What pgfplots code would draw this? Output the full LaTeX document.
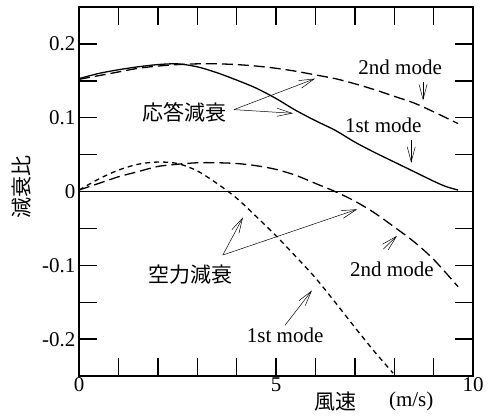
\documentclass[border=0pt]{standalone}
\usepackage{fontspec}
\setmainfont{Liberation Serif}
\newfontfamily\cjk{Noto Sans CJK JP}
\usepackage{pgfplots}
\pgfplotsset{compat=1.18}
\usetikzlibrary{arrows.meta}
\newcommand\bigf{\fontsize{21}{25}\selectfont}
\begin{document}
\begin{tikzpicture}
\begin{axis}[
  scale only axis, width=394pt, height=369pt,
  xmin=0, xmax=10, ymin=-0.25, ymax=0.25,
  xtick={0,1,2,3,4,5,6,7,8,9,10},
  xticklabels={\textrm{0},,,,,\textrm{5},,,,,\textrm{10}},
  ytick={-0.2,-0.15,-0.1,-0.05,0,0.05,0.1,0.15,0.2},
  yticklabels={\textrm{-0.2},,\textrm{-0.1},,\textrm{0},,\textrm{0.1},,\textrm{0.2}},
  tick align=inside,
  major tick length=18pt,
  every major tick/.append style={line width=1.4pt, black},
  tick style={line width=1.4pt, black},
  axis line style={line width=1.4pt},
  ticklabel style={font=\bigf},
  xticklabel style={anchor=center, yshift=-9pt},
  clip=false]
% zero line
\addplot[black, line width=1.4pt] coordinates {(0,0) (10,0)};
% response damping, 1st mode (solid)
\addplot[black, line width=1.3pt, smooth] coordinates {
(0,0.153) (0.5,0.160) (1,0.165) (1.5,0.169) (2,0.172) (2.5,0.173) (3,0.169)
(3.5,0.161) (4,0.151) (4.5,0.140) (5,0.126) (5.5,0.110) (6,0.096) (6.5,0.083)
(7,0.067) (7.5,0.053) (8,0.040) (8.5,0.027) (9,0.014) (9.3,0.007) (9.62,0.002)};
% response damping, 2nd mode (long dash)
\addplot[black, line width=1.3pt, smooth, dash pattern=on 11pt off 5pt] coordinates {
(0,0.152) (0.5,0.157) (1,0.162) (1.5,0.167) (2,0.170) (2.5,0.172) (3,0.173)
(3.5,0.173) (4,0.172) (4.5,0.170) (5,0.167) (5.5,0.163) (6,0.158) (6.5,0.153)
(7,0.146) (7.5,0.138) (8,0.129) (8.5,0.120) (9,0.108) (9.62,0.092)};
% aerodynamic damping, 1st mode (short dash)
\addplot[black, line width=1.3pt, smooth, dash pattern=on 5pt off 4pt] coordinates {
(0,0.002) (0.5,0.017) (1,0.029) (1.5,0.037) (2,0.040) (2.5,0.038) (3,0.028)
(3.5,0.011) (4,-0.009) (4.5,-0.034) (5,-0.060) (5.5,-0.088) (6,-0.117)
(6.5,-0.150) (7,-0.184) (7.5,-0.217) (7.97,-0.246)};
% aerodynamic damping, 2nd mode (long dash)
\addplot[black, line width=1.3pt, smooth, dash pattern=on 11pt off 5pt] coordinates {
(0,0.002) (0.5,0.011) (1,0.020) (1.5,0.027) (2,0.034) (2.5,0.037) (3,0.039)
(3.5,0.039) (4,0.038) (4.5,0.035) (5,0.030) (5.5,0.022) (6,0.011) (6.5,0.0)
(7,-0.013) (7.5,-0.029) (8,-0.048) (8.5,-0.068) (9,-0.092) (9.62,-0.129)};
% annotations
\node[font=\bigf\cjk] at (axis cs:2.665,0.107) {応答減衰};
\draw[line width=0.5pt, -{Straight Barb[length=15pt,width=8pt]}] (axis cs:3.93,0.111) -- (axis cs:5.99,0.153);
\draw[line width=0.5pt, -{Straight Barb[length=15pt,width=8pt]}] (axis cs:3.93,0.111) -- (axis cs:5.43,0.106);
\node[font=\bigf] at (axis cs:8.15,0.168) {2nd mode};
\draw[line width=0.5pt, -{Straight Barb[length=15pt,width=8pt]}] (axis cs:8.73,0.148) -- (axis cs:8.73,0.1235);
\node[font=\bigf] at (axis cs:7.72,0.090) {1st mode};
\draw[line width=0.5pt, -{Straight Barb[length=15pt,width=8pt]}] (axis cs:8.43,0.070) -- (axis cs:8.43,0.039);
\node[font=\bigf\cjk] at (axis cs:2.84,-0.1128) {空力減衰};
\draw[line width=0.5pt, -{Straight Barb[length=15pt,width=8pt]}] (axis cs:3.65,-0.086) -- (axis cs:4.16,-0.035);
\draw[line width=0.5pt, -{Straight Barb[length=15pt,width=8pt]}] (axis cs:3.65,-0.086) -- (axis cs:7.06,-0.024);
\node[font=\bigf] at (axis cs:7.94,-0.106) {2nd mode};
\draw[line width=0.5pt, -{Straight Barb[length=15pt,width=8pt]}] (axis cs:7.72,-0.078) -- (axis cs:8.07,-0.060);
\node[font=\bigf] at (axis cs:5.23,-0.195) {1st mode};
\draw[line width=0.5pt, -{Straight Barb[length=15pt,width=8pt]}] (axis cs:5.23,-0.181) -- (axis cs:5.91,-0.134);
% axis labels
\node[font=\bigf\cjk, rotate=90] at (axis cs:-1.447,0.0067) {減衰比};
\node[font=\bigf\cjk] at (axis cs:6.50,-0.284) {風速};
\node[font=\bigf] at (axis cs:8.43,-0.284) {(m/s)};
% invisible frame giving the picture the reference's margins
\path (axis cs:-2.005,0.2595) (axis cs:10.48,-0.3083);
\end{axis}
\end{tikzpicture}
\end{document}
